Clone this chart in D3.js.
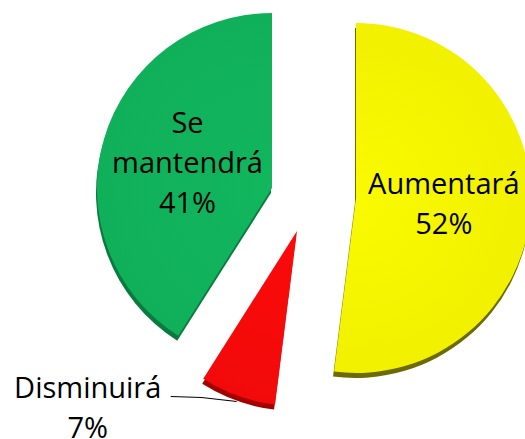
<!DOCTYPE html>
<html>
<head>
<meta charset="utf-8">
<script src="https://cdn.jsdelivr.net/npm/d3@7"></script>
<style>
  body { margin: 0; background: #fff; }
  text { font-family: "Open Sans", Lato, sans-serif; fill: #000; }
</style>
</head>
<body>
<div id="chart"></div>
<script>
// data
var categories = ["Aumentará", "Disminuirá", "Se mantendrá"];
var values = [52, 7, 41];
var percentLabels = ["52%", "7%", "41%"];
var nameLines = [["Aumentará"], ["Disminuirá"], ["Se", "mantendrá"]];
var colors = ["#f1f100", "#f20a0a", "#10b05a"];
var sideColors = ["#6c6a00", "#a50000", "#0a7b3e"];

var width = 525;
var height = 439;
var radius = 175;
var depth = 5;
var cx = 285, cy = 205;
// how far each slice is pulled out of the pie
var explode = [[71, -7], [12, 26], [-13, -17]];

var svg = d3.select("#chart")
  .append("svg")
  .attr("width", width)
  .attr("height", height);

var defs = svg.append("defs");
colors.forEach(function (c, i) {
  var g = defs.append("radialGradient")
    .attr("id", "grad" + i)
    .attr("gradientUnits", "userSpaceOnUse")
    .attr("cx", 0).attr("cy", 0).attr("r", radius);
  g.append("stop").attr("offset", "0%").attr("stop-color", d3.color(c).brighter(0.1));
  g.append("stop").attr("offset", "100%").attr("stop-color", c);
});

var pie = d3.pie().sort(null).value(function (d) { return d; });
var arcs = pie(values);

var arc = d3.arc().innerRadius(0).outerRadius(radius);

var slices = svg.selectAll("g.slice")
  .data(arcs)
  .enter()
  .append("g")
  .attr("class", "slice")
  .attr("transform", function (d, i) {
    return "translate(" + (cx + explode[i][0]) + "," + (cy + explode[i][1]) + ")";
  });

// side of the slab
slices.append("path")
  .attr("d", arc)
  .attr("transform", "translate(-1," + depth + ")")
  .attr("fill", function (d, i) { return sideColors[i]; });

// top face
slices.append("path")
  .attr("d", arc)
  .attr("fill", function (d, i) { return "url(#grad" + i + ")"; });

var fontSize = 29;
var lineH = 40;

// labels inside the big slices
slices.filter(function (d, i) { return i !== 1; })
  .each(function (d) {
    var i = arcs.indexOf(d);
    var a = (d.startAngle + d.endAngle) / 2;
    var r = 88;
    var x = r * Math.sin(a);
    var y = -r * Math.cos(a);
    var lines = nameLines[i].concat([percentLabels[i]]);
    var t = d3.select(this).append("text")
      .attr("text-anchor", "middle")
      .style("font-size", fontSize + "px");
    lines.forEach(function (s, k) {
      t.append("tspan")
        .attr("x", x)
        .attr("y", y - (lines.length - 1) * lineH / 2 + k * lineH + 10)
        .text(s);
    });
  });

// outside label for the small slice with a leader line
var small = arcs[1];
var smallG = d3.select(slices.nodes()[1]);
var mid = (small.startAngle + small.endAngle) / 2;
var tip = [178 * Math.sin(mid), -178 * Math.cos(mid) + 3];
var elbow = [tip[0] - 35, tip[1] - 4];
var lineEnd = [tip[0] - 66, tip[1] - 5];

smallG.append("path")
  .attr("d", d3.line()([tip, elbow, lineEnd]))
  .attr("fill", "none")
  .attr("stroke", "#000")
  .attr("stroke-width", 1.2);

var outT = smallG.append("text")
  .attr("text-anchor", "middle")
  .style("font-size", fontSize + "px");
[nameLines[1][0], percentLabels[1]].forEach(function (s, k) {
  outT.append("tspan")
    .attr("x", lineEnd[0] - 83)
    .attr("y", lineEnd[1] + 2 + k * lineH)
    .text(s);
});
</script>
</body>
</html>
